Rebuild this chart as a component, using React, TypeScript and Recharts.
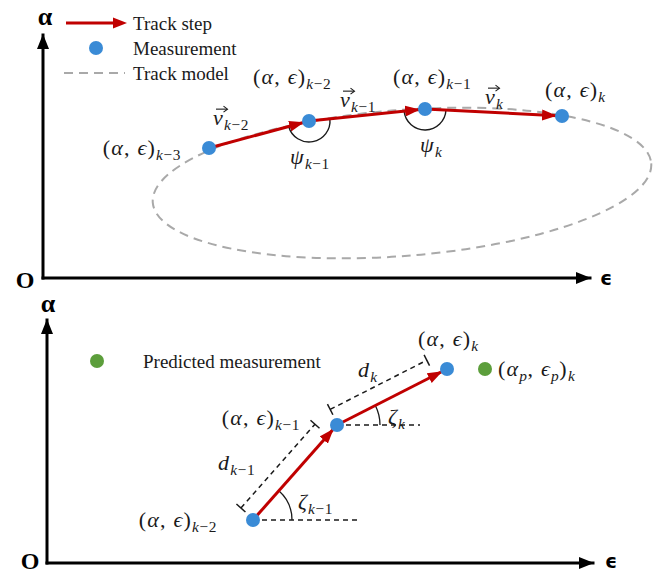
import React from 'react';
import { ComposedChart, XAxis, YAxis, Line, Scatter, ReferenceDot, Legend } from 'recharts';

// ===== data (chart units: ε horizontal, α vertical, origin at the axes corner) =====
const upperIds = ['k-3', 'k-2', 'k-1', 'k'];
const upperEps = [166, 266, 382, 519];
const upperAlpha = [130, 157, 169, 162];

// track model (ellipse): centre (ε, α), semi-axes (ε, α), tilt in degrees
const modelCentre = [359, 95];
const modelSemiAxes = [250, 73];
const modelTiltDeg = [4.5];

const lowerIds = ['k-2', 'k-1', 'k'];
const lowerEps = [206, 290, 400];
const lowerAlpha = [43, 138, 194];

const predictedEps = [438];
const predictedAlpha = [194];

const upperLegendLabels = ['Track step', 'Measurement', 'Track model'];
const lowerLegendLabels = ['Predicted measurement'];
const axisTitles = ['α', 'ϵ', 'O'];

// ===== styles / layout =====
const W = 659;
const RED = '#c00000';
const BLUE = '#3a8bd6';
const GREEN = '#5c9e3b';
const GREY = '#a9a9a9';
const INK = '#1a1a1a';
const SERIF = '"Liberation Serif", "Times New Roman", "DejaVu Serif", serif';

const UPPER = { h: 290, m: { top: 35, right: 69, bottom: 12, left: 43 }, x: [0, 547], y: [0, 243] };
const LOWER = { h: 283, m: { top: 30, right: 66, bottom: 10, left: 47 }, x: [0, 546], y: [0, 243] };

// label offsets (pixels) relative to their anchor point
const upperPointLabelLayout = [
  { dx: -28, dy: 0, anchor: 'end' },
  { dx: -56, dy: -44, anchor: 'start' },
  { dx: -32, dy: -32, anchor: 'start' },
  { dx: -17, dy: -26, anchor: 'start' },
];
const upperVecLayout = [
  { dx: 4, dy: -30 },
  { dx: 31, dy: -21 },
  { dx: 60, dy: -12 },
];
const upperPsiLayout = [
  { dx: -19, dy: 36 },
  { dx: -5, dy: 36 },
];
const lowerPointLabelLayout = [
  { dx: -36, dy: 0, anchor: 'end' },
  { dx: -37, dy: -7, anchor: 'end' },
  { dx: -29, dy: -30, anchor: 'start' },
];
const lowerDLayout = [
  { dx: -35, dy: -57 },
  { dx: 21, dy: -55 },
];
const lowerZetaLayout = [
  { dx: 45, dy: -18 },
  { dx: 51, dy: -8 },
];
const lowerBaselineLen = [104, 83];
const lowerZetaRadius = [39, 43];
// axis-title offsets: [α from top of α-axis, ϵ from end of ϵ-axis, O from origin]
const upperTitleLayout = [{ dx: 2, dy: -19 }, { dx: 16, dy: 0 }, { dx: -18, dy: 2 }];
const lowerTitleLayout = [{ dx: 1, dy: -17 }, { dx: 18, dy: -2 }, { dx: -17, dy: -2 }];

// ===== helpers =====
type Pt = { id: string; e: number; a: number };
const upperPts: Pt[] = upperIds.map((id, i) => ({ id, e: upperEps[i], a: upperAlpha[i] }));
const lowerPts: Pt[] = lowerIds.map((id, i) => ({ id, e: lowerEps[i], a: lowerAlpha[i] }));
const predictedPts: Pt[] = predictedEps.map((e, i) => ({ id: 'p', e, a: predictedAlpha[i] }));
const upperSteps = upperPts.slice(1).map((p, i) => [upperPts[i], p]);
const lowerSteps = lowerPts.slice(1).map((p, i) => [lowerPts[i], p]);

function scaleOf(cfg: any) {
  const pw = W - cfg.m.left - cfg.m.right;
  const ph = cfg.h - cfg.m.top - cfg.m.bottom;
  return { sx: pw / (cfg.x[1] - cfg.x[0]), sy: ph / (cfg.y[1] - cfg.y[0]) };
}
function screenAngle(cfg: any, from: Pt, to: Pt) {
  const { sx, sy } = scaleOf(cfg);
  return Math.atan2(-(to.a - from.a) * sy, (to.e - from.e) * sx);
}
function arcPath(cx: number, cy: number, r: number, a0: number, a1: number) {
  let span = a0 - a1;
  while (span < 0) span += 2 * Math.PI;
  const large = span > Math.PI ? 1 : 0;
  return `M${cx + r * Math.cos(a0)},${cy + r * Math.sin(a0)} A${r},${r} 0 ${large} 0 ${cx + r * Math.cos(a1)},${cy + r * Math.sin(a1)}`;
}

type Seg = { t: string; it?: boolean; sub?: boolean };
const subOf = (id: string): Seg[] => {
  const out: Seg[] = [{ t: id.slice(0, 1), it: true, sub: true }];
  if (id.length > 1) out.push({ t: id.slice(1).replace('-', '−'), sub: true });
  return out;
};
const pairLabel = (id: string): Seg[] => [
  { t: '(' }, { t: 'α', it: true }, { t: ', ' }, { t: 'ϵ', it: true }, { t: ')' }, ...subOf(id),
];
const symLabel = (g: string, id: string): Seg[] => [{ t: g, it: true }, ...subOf(id)];
const predictedLabel: Seg[] = [
  { t: '(' }, { t: 'α', it: true }, { t: 'p', it: true, sub: true }, { t: ', ' },
  { t: 'ϵ', it: true }, { t: 'p', it: true, sub: true }, { t: ')' }, { t: 'k', it: true, sub: true },
];

function MathText({ x, y, segs, size = 22, anchor = 'start' }: any) {
  let level = 0;
  const shift = size * 0.24;
  return (
    <text x={x} y={y + size * 0.32} textAnchor={anchor} fontFamily={SERIF} fill={INK} fontSize={size} style={{ whiteSpace: 'pre' }}>
      {segs.map((s: Seg, i: number) => {
        const target = s.sub ? 1 : 0;
        const dy = (target - level) * shift;
        level = target;
        return (
          <tspan key={i} dy={dy} fontStyle={s.it ? 'italic' : 'normal'} fontSize={s.sub ? size * 0.7 : size}
            letterSpacing={s.sub ? 0.6 : 1.2}>
            {s.t}
          </tspan>
        );
      })}
    </text>
  );
}

const at = (p: Pt, key: string, shape: any, extra: any = {}) => (
  <ReferenceDot key={key} x={p.e} y={p.a} r={1} ifOverflow="visible" shape={shape} {...extra} />
);

const textShape = (segs: Seg[], l: any) => (pr: any) => (
  <MathText x={pr.cx + l.dx} y={pr.cy + l.dy} segs={segs} anchor={l.anchor || 'start'} />
);

const vecShape = (id: string, l: any) => (pr: any) => {
  const x0 = pr.cx + l.dx;
  const y0 = pr.cy + l.dy;
  const ay = y0 - 0.13 * 22 - 6;
  return (
    <g>
      <MathText x={x0} y={y0} segs={symLabel('v', id)} />
      <line x1={x0 + 3} y1={ay} x2={x0 + 14} y2={ay} stroke={INK} strokeWidth={1.1} />
      <path d={`M${x0 + 10.5},${ay - 3} L${x0 + 14.5},${ay} L${x0 + 10.5},${ay + 3}`} fill="none" stroke={INK} strokeWidth={1.1} />
    </g>
  );
};

const dotShape = (color: string) => (pr: any) => <circle cx={pr.cx} cy={pr.cy} r={7} fill={color} />;

function Defs() {
  return (
    <svg width={0} height={0} style={{ position: 'absolute', left: 0, top: 0 }}>
      <defs>
        <marker id="axisHead" viewBox="0 0 15 12" refX={14} refY={6} markerWidth={15} markerHeight={12}
          markerUnits="userSpaceOnUse" orient="auto">
          <path d="M0,0 L15,6 L0,12 Z" fill="#000" />
        </marker>
        <marker id="stepHead" viewBox="0 0 20 11" refX={20} refY={5.5} markerWidth={20} markerHeight={11}
          markerUnits="userSpaceOnUse" orient="auto">
          <path d="M0,0 L15,5.5 L0,11 Z" fill={RED} />
        </marker>
      </defs>
    </svg>
  );
}

// axis titles (α, ϵ, O) placed at the ends of the axes of a panel
function AxisTitles({ cfg, layout }: any) {
  const ox = cfg.m.left;
  const oy = cfg.h - cfg.m.bottom;
  const xEnd = W - cfg.m.right;
  const yEnd = cfg.m.top;
  const spots = [
    { x: ox, y: yEnd, size: 26, fam: SERIF },
    { x: xEnd, y: oy, size: 19, fam: '"DejaVu Sans", sans-serif' },
    { x: ox, y: oy, size: 24, fam: SERIF },
  ];
  return (
    <svg width={W} height={cfg.h} style={{ position: 'absolute', left: 0, top: 0, pointerEvents: 'none', overflow: 'visible' }}>
      {spots.map((s, i) => (
        <text key={i} x={s.x + layout[i].dx} y={s.y + layout[i].dy} textAnchor="middle" dominantBaseline="central"
          fontFamily={s.fam} fontWeight="bold" fontSize={s.size} fill="#000">{axisTitles[i]}</text>
      ))}
    </svg>
  );
}

function UpperLegend() {
  return (
    <svg width={260} height={90} style={{ display: 'block' }}>
      <line x1={66} y1={23} x2={116} y2={23} stroke={RED} strokeWidth={3} />
      <path d="M113,17.5 L127,23 L113,28.5 Z" fill={RED} />
      <circle cx={96} cy={48} r={7} fill={BLUE} />
      <line x1={64} y1={73} x2={125} y2={73} stroke={GREY} strokeWidth={2} strokeDasharray="9 6" />
      {upperLegendLabels.map((t, i) => (
        <text key={t} x={133} y={23 + 25 * i} dominantBaseline="central" fontFamily={SERIF} fontSize={19} fill={INK}>{t}</text>
      ))}
    </svg>
  );
}

function LowerLegend() {
  return (
    <svg width={340} height={90} style={{ display: 'block' }}>
      <circle cx={97} cy={71} r={7} fill={GREEN} />
      {lowerLegendLabels.map((t) => (
        <text key={t} x={143} y={71} dominantBaseline="central" fontFamily={SERIF} fontSize={19} fill={INK}>{t}</text>
      ))}
    </svg>
  );
}

function axisLines(cfg: any) {
  const xAxisData = [{ e: cfg.x[0], a: cfg.y[0] }, { e: cfg.x[1], a: cfg.y[0] }];
  const yAxisData = [{ e: cfg.x[0], a: cfg.y[0] }, { e: cfg.x[0], a: cfg.y[1] }];
  return [
    <Line key="ax" data={xAxisData} dataKey="a" type="linear" stroke="#000" strokeWidth={3} dot={false} activeDot={false}
      markerEnd="url(#axisHead)" isAnimationActive={false} legendType="none" strokeLinecap="square" />,
    <Line key="ay" data={yAxisData} dataKey="a" type="linear" stroke="#000" strokeWidth={3} dot={false} activeDot={false}
      markerEnd="url(#axisHead)" isAnimationActive={false} legendType="none" strokeLinecap="square" />,
  ];
}

function UpperPanel() {
  const cfg = UPPER;
  const { sx, sy } = scaleOf(cfg);
  const centre = { id: 'c', e: modelCentre[0], a: modelCentre[1] };
  return (
    <ComposedChart width={W} height={cfg.h} margin={cfg.m}>
      <XAxis type="number" dataKey="e" domain={cfg.x} hide />
      <YAxis type="number" dataKey="a" domain={cfg.y} hide />
      <Legend layout="horizontal" verticalAlign="middle" align="center" wrapperStyle={{ left: 0, top: 0, width: 260, height: 90 }}
        content={() => <UpperLegend />} />
      {at(centre, 'model', (pr: any) => (
        <ellipse cx={pr.cx} cy={pr.cy} rx={modelSemiAxes[0] * sx} ry={modelSemiAxes[1] * sy}
          transform={`rotate(${-modelTiltDeg[0]} ${pr.cx} ${pr.cy})`} fill="none" stroke={GREY} strokeWidth={2} strokeDasharray="9 6" />
      ), { zIndex: 350 })}
      {axisLines(cfg)}
      {upperSteps.map((s, i) => (
        <Line key={`st${i}`} data={s} dataKey="a" type="linear" stroke={RED} strokeWidth={3} dot={false} activeDot={false}
          markerEnd="url(#stepHead)" isAnimationActive={false} legendType="none" />
      ))}
      {upperPts.slice(1, -1).map((p, j) => {
        const i = j + 1;
        return at(p, `psi${i}`, (pr: any) => (
          <path d={arcPath(pr.cx, pr.cy, 21, screenAngle(cfg, p, upperPts[i - 1]), screenAngle(cfg, p, upperPts[i + 1]))}
            fill="none" stroke={INK} strokeWidth={1.4} />
        ), { zIndex: 350 });
      })}
      <Scatter data={upperPts} dataKey="a" shape={dotShape(BLUE)} isAnimationActive={false} legendType="none" />
      {upperPts.map((p, i) => at(p, `pl${i}`, textShape(pairLabel(p.id), upperPointLabelLayout[i])))}
      {upperSteps.map((s, i) => at(s[0], `vl${i}`, vecShape(s[1].id, upperVecLayout[i])))}
      {upperPts.slice(1, -1).map((p, j) => at(p, `psl${j}`, textShape(symLabel('ψ', upperPts[j + 2].id), upperPsiLayout[j])))}
    </ComposedChart>
  );
}

function LowerPanel() {
  const cfg = LOWER;
  const { sx, sy } = scaleOf(cfg);
  return (
    <ComposedChart width={W} height={cfg.h} margin={cfg.m}>
      <XAxis type="number" dataKey="e" domain={cfg.x} hide />
      <YAxis type="number" dataKey="a" domain={cfg.y} hide />
      <Legend layout="horizontal" verticalAlign="middle" align="center" wrapperStyle={{ left: 0, top: 0, width: 340, height: 90 }}
        content={() => <LowerLegend />} />
      {axisLines(cfg)}
      {lowerSteps.map((s, i) => at(s[0], `base${i}`, (pr: any) => (
        <line x1={pr.cx} y1={pr.cy} x2={pr.cx + lowerBaselineLen[i]} y2={pr.cy} stroke={INK} strokeWidth={1.5} strokeDasharray="5 4" />
      ), { zIndex: 350 }))}
      {lowerSteps.map((s, i) => at(s[0], `zeta${i}`, (pr: any) => (
        <path d={arcPath(pr.cx, pr.cy, lowerZetaRadius[i], 0, screenAngle(cfg, s[0], s[1]))} fill="none" stroke={INK} strokeWidth={1.3} />
      ), { zIndex: 350 }))}
      {lowerSteps.map((s, i) => at(s[0], `dim${i}`, (pr: any) => {
        const P = { x: pr.cx, y: pr.cy };
        const Q = { x: P.x + (s[1].e - s[0].e) * sx, y: P.y - (s[1].a - s[0].a) * sy };
        const L = Math.hypot(Q.x - P.x, Q.y - P.y);
        const u = { x: (Q.x - P.x) / L, y: (Q.y - P.y) / L };
        const n = { x: u.y, y: -u.x };
        const off = 17, t0 = 1, t1 = 14, tk = 6;
        const A = { x: P.x + n.x * off + u.x * t0, y: P.y + n.y * off + u.y * t0 };
        const B = { x: Q.x + n.x * off - u.x * t1, y: Q.y + n.y * off - u.y * t1 };
        return (
          <g stroke={INK} strokeWidth={1.5} fill="none">
            <line x1={A.x} y1={A.y} x2={B.x} y2={B.y} strokeDasharray="5 4" />
            <line x1={A.x - n.x * tk} y1={A.y - n.y * tk} x2={A.x + n.x * tk} y2={A.y + n.y * tk} />
            <line x1={B.x - n.x * tk} y1={B.y - n.y * tk} x2={B.x + n.x * tk} y2={B.y + n.y * tk} />
          </g>
        );
      }))}
      {lowerSteps.map((s, i) => (
        <Line key={`st${i}`} data={s} dataKey="a" type="linear" stroke={RED} strokeWidth={3} dot={false} activeDot={false}
          markerEnd="url(#stepHead)" isAnimationActive={false} legendType="none" />
      ))}
      <Scatter data={lowerPts} dataKey="a" shape={dotShape(BLUE)} isAnimationActive={false} legendType="none" />
      <Scatter data={predictedPts} dataKey="a" shape={dotShape(GREEN)} isAnimationActive={false} legendType="none" />
      {lowerPts.map((p, i) => at(p, `pl${i}`, textShape(pairLabel(p.id), lowerPointLabelLayout[i])))}
      {predictedPts.map((p, i) => at(p, `pp${i}`, textShape(predictedLabel, { dx: 13, dy: 0 })))}
      {lowerSteps.map((s, i) => at(s[0], `dl${i}`, textShape(symLabel('d', s[1].id), lowerDLayout[i])))}
      {lowerSteps.map((s, i) => at(s[0], `zl${i}`, textShape(symLabel('ζ', s[1].id), lowerZetaLayout[i])))}
    </ComposedChart>
  );
}

export default function App() {
  return (
    <div style={{ position: 'absolute', left: 0, top: 0, width: 659, height: 573, background: '#fff', overflow: 'hidden' }}>
      <Defs />
      <div style={{ position: 'absolute', left: 0, top: 0, width: W, height: UPPER.h }}>
        <UpperPanel />
        <AxisTitles cfg={UPPER} layout={upperTitleLayout} />
      </div>
      <div style={{ position: 'absolute', left: 0, top: 290, width: W, height: LOWER.h }}>
        <LowerPanel />
        <AxisTitles cfg={LOWER} layout={lowerTitleLayout} />
      </div>
    </div>
  );
}
